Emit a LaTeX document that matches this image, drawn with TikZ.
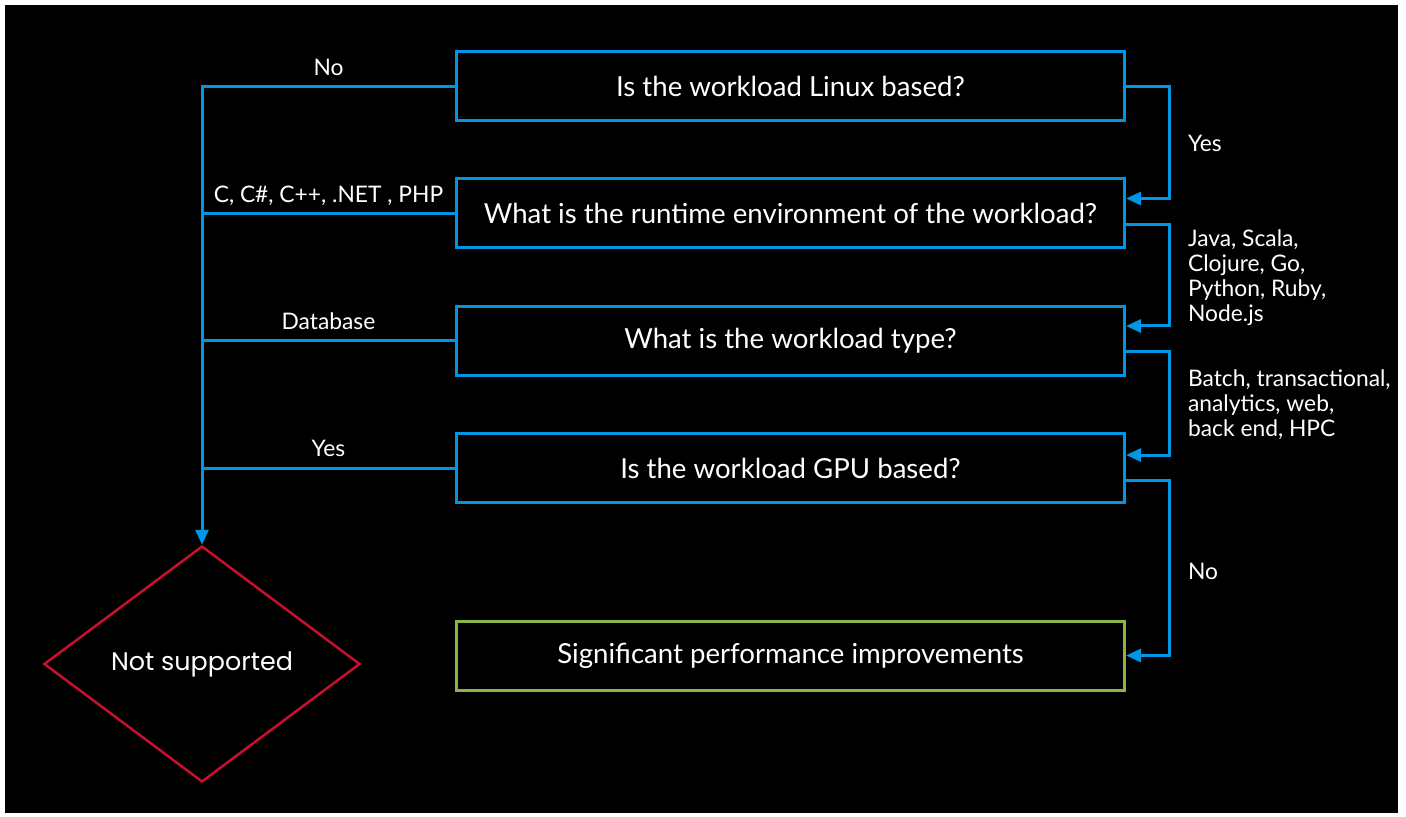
\documentclass[tikz,border=0pt]{standalone}
\usepackage{fontspec}
\setmainfont{Lato}
\newfontfamily\diamondfont{Poppins}
\usetikzlibrary{shapes.geometric,arrows.meta}
\definecolor{flowblue}{RGB}{0,150,230}
\definecolor{okgreen}{RGB}{141,178,70}
\definecolor{nored}{RGB}{200,16,46}

\begin{document}
\begin{tikzpicture}[x=0.5pt,y=-0.5pt,
    question/.style={draw=flowblue,line width=1.5pt,minimum width=334pt,minimum height=34.5pt,
      text=white,font=\fontsize{13.8}{16}\selectfont},
    flow/.style={draw=flowblue,line width=1.5pt},
    tip/.style={-{Triangle[length=7.5pt,width=6.5pt]}},
    lbl/.style={text=white,font=\fontsize{11.4}{12.5}\selectfont,align=left}]
  % page and background
  \fill[white] (0,0) rectangle (1406,817);
  \fill[black] (5,5) rectangle (1398,813);
  % boxes
  \node[question] (linux) at (790.5,86.5) {Is the workload Linux based?};
  \node[question] (runtime) at (790.5,213.5) {What is the runtime environment of the workload?};
  \node[question] (wtype) at (790.5,341) {What is the workload type?};
  \node[question] (gpu) at (790.5,468) {Is the workload GPU based?};
  \node[question,draw=okgreen] (perf) at (790.5,655.5) {Significant performance improvements};
  \node[diamond,draw=nored,line width=1.25pt,minimum width=158pt,minimum height=118pt,inner sep=0pt,
    text=white,font=\diamondfont\fontsize{12.7}{14}\selectfont] (nosup) at (202,664) {Not supported};
  \coordinate (rail) at (1169,0);
  % left side
  \path[flow,tip] (linux.west) -| (nosup.north)
    node[lbl,pos=0.25,anchor=base,yshift=5.5pt] {No};
  \path[flow] (runtime.west) -- (runtime.west -| nosup.north)
    node[lbl,midway,anchor=base,yshift=5.5pt] {C, C\#, C++, .NET , PHP};
  \path[flow] (wtype.west) -- (wtype.west -| nosup.north)
    node[lbl,midway,anchor=base,yshift=5.5pt] {Database};
  \path[flow] (gpu.west) -- (gpu.west -| nosup.north)
    node[lbl,midway,anchor=base,yshift=5.5pt] {Yes};
  % right side
  \path[flow,tip] (linux.east) -- (linux.east -| rail) |- ([yshift=7.5pt]runtime.east);
  \path[flow,tip] ([yshift=-5.5pt]runtime.east) -- ([yshift=-5.5pt]runtime.east -| rail) |- ([yshift=7.5pt]wtype.east);
  \path[flow,tip] ([yshift=-5.5pt]wtype.east) -- ([yshift=-5.5pt]wtype.east -| rail) |- ([yshift=6.5pt]gpu.east);
  \path[flow,tip] ([yshift=-6pt]gpu.east) -- ([yshift=-6pt]gpu.east -| rail) |- (perf.east);
  \node[lbl,anchor=west] (yeslbl) at (1181,143) {Yes};
  \node[lbl,anchor=west] (langlbl) at (1181,278) {Java, Scala,\\Clojure, Go,\\Python, Ruby,\\Node.js};
  \node[lbl,anchor=west] (typelbl) at (1181,405) {Batch, transactional,\\analytics, web,\\back end, HPC};
  \node[lbl,anchor=west] (nolbl) at (1181,571) {No};
\end{tikzpicture}
\end{document}
